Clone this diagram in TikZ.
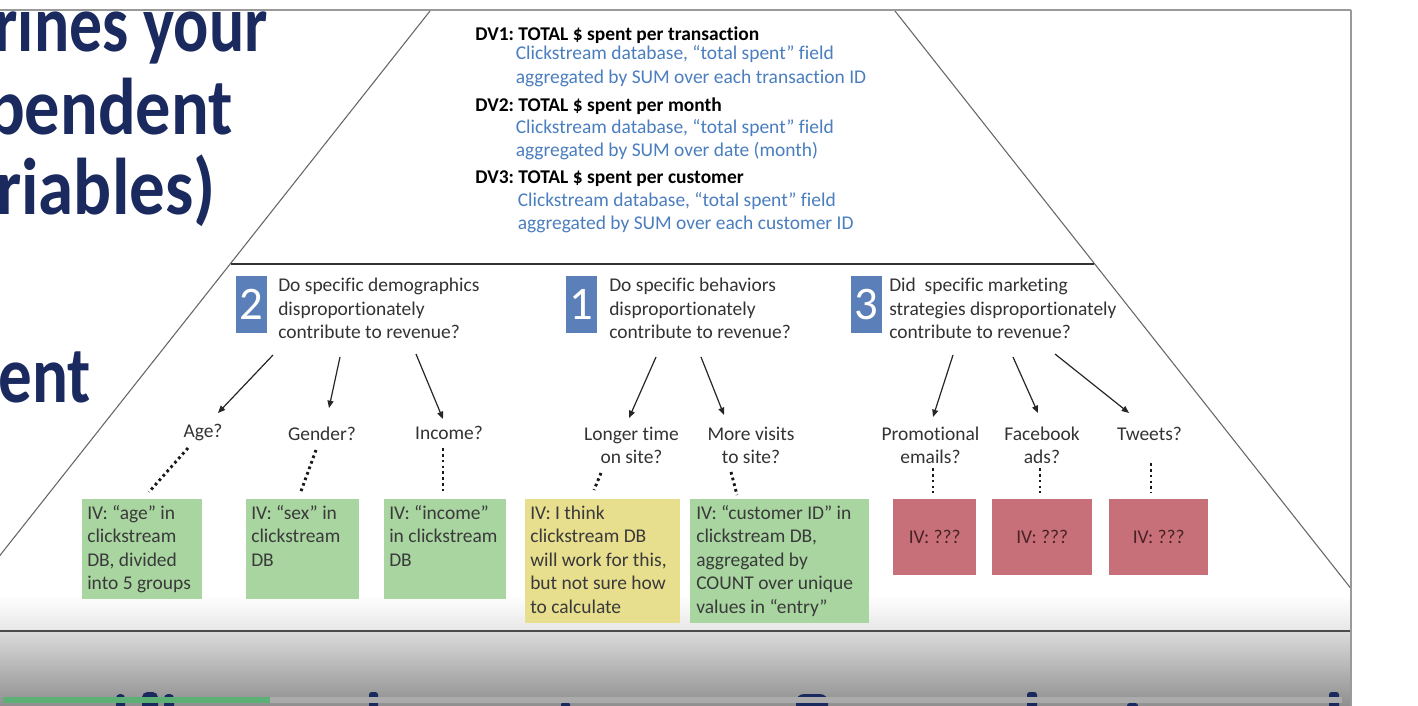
\documentclass[tikz,border=0pt]{standalone}
\usepackage{fontspec}
\setmainfont{Carlito}[Ligatures=NoCommon]
\usetikzlibrary{arrows.meta,calc}
\definecolor{navy}{HTML}{1B2A5E}
\definecolor{dvblue}{HTML}{4A7EBF}
\definecolor{numblue}{HTML}{5B80B9}
\definecolor{ivgreen}{HTML}{A8D5A0}
\definecolor{ivyellow}{HTML}{E7DE8E}
\definecolor{ivred}{HTML}{C8707A}
\definecolor{txtgray}{HTML}{333333}
\definecolor{boxtxt}{HTML}{3A3A3A}
\definecolor{redtxt}{HTML}{4A2225}
\definecolor{frame}{HTML}{9A9A9A}
\definecolor{pbgreen}{HTML}{5DB075}
\definecolor{pbgray}{HTML}{ABABAB}
\newcommand\bodyfont{\fontsize{14.6}{17.6}\selectfont}
\newcommand\headfont{\fontsize{50.25}{60}\selectfont\bfseries}
\newcommand\numfont{\fontsize{35}{40}\selectfont}
\frenchspacing
\begin{document}
\begin{tikzpicture}[x=0.75pt,y=-0.75pt,
  head/.style={font=\headfont, text=navy, inner sep=0, anchor=base east},
  qtext/.style={font=\bodyfont, text=txtgray, align=left, anchor=north west, inner sep=0},
  numbox/.style={fill=numblue, text=white, minimum width=23.25pt, minimum height=42.75pt, inner sep=0, font=\numfont, anchor=north west},
  lab/.style={font=\bodyfont, text=txtgray, align=center, inner sep=0},
  dvhead/.style={font=\bodyfont\bfseries, text=black, anchor=base west, inner sep=0},
  dvdesc/.style={font=\bodyfont, text=dvblue, anchor=base west, inner sep=0},
  ivbox/.style={draw=none, inner sep=0, anchor=north west},
  ivtext/.style={font=\bodyfont, text=boxtxt, align=left, anchor=north west, inner sep=0},
  redbox/.style={fill=ivred, inner sep=0, anchor=north west, font=\bodyfont, text=redtxt, minimum height=57pt},
  arr/.style={-{Triangle[length=5.5pt,width=4.5pt]}, line width=0.9pt, draw=black!85},
  dotline/.style={line width=2.2pt, dash pattern=on 2pt off 2.4pt, draw=black!90},
  pyr/.style={draw=black!60, line width=0.8pt}
]
\useasboundingbox (0,0) rectangle (1418,706);
\clip (0,0) rectangle (1418,706);
\fill[white] (0,0) rectangle (1418,706);

% slide bottom shading and band
\shade[top color=white, bottom color=black!9] (0,595) rectangle (1350,629);
\shade[top color=black!14, bottom color=black!44] (0,631) rectangle (1350,706);
\draw[draw=black!70, line width=1.5pt] (0,630.5) -- (1350,630.5);

% heading (clipped by the slide frame)
\begin{scope}
\clip (0,11) rectangle (1350,629);
\node[head] (h1) at (268,52) {\scalebox{0.98}[1.2]{rines your}};
\node[head] (h2) at (233,135) {\scalebox{1.05}[1.2]{pendent}};
\node[head] (h3) at (216,215) {\scalebox{1.06}[1.2]{riables)}};
\node[head] (h4) at (91,402) {\scalebox{1}[1.2]{ent}};
\end{scope}

% frame
\draw[draw=frame, line width=1.5pt] (0,10) -- (1351,10);
\draw[draw=frame, line width=1.5pt] (1351,10) -- (1351,706);

% pyramid
\begin{scope}
\clip (0,11) rectangle (1350,629);
\draw[pyr] (430,11) -- (-10,568);
\draw[pyr] (895,11) -- (1360,600);
\end{scope}
\draw[draw=black!80, line width=1.1pt] (230.6,264) -- (1094.4,264);

% DV text
\node[dvhead] (dv1) at (475,40.7) {DV1: TOTAL \$ spent per transaction};
\node[dvdesc] (dv1a) at (515.5,60) {Clickstream database, “total spent” field};
\node[dvdesc] (dv1b) at (515.5,84) {aggregated by SUM over each transaction ID};
\node[dvhead] (dv2) at (475,111.7) {DV2: TOTAL \$ spent per month};
\node[dvdesc] (dv2a) at (515.5,133.3) {Clickstream database, “total spent” field};
\node[dvdesc] (dv2b) at (515.5,156.7) {aggregated by SUM over date (month)};
\node[dvhead] (dv3) at (475,183.3) {DV3: TOTAL \$ spent per customer};
\node[dvdesc] (dv3a) at (517.5,206.7) {Clickstream database, “total spent” field};
\node[dvdesc] (dv3b) at (517.5,230) {aggregated by SUM over each customer ID};

% questions
\node[numbox] (n2) at (236,276) {2};
\node[numbox] (n1) at (566,276) {1};
\node[numbox] (n3) at (851,276) {3};
\node[qtext] (q2) at (278,275.3) {\strut Do specific demographics\\disproportionately\\contribute to revenue?};
\node[qtext] (q1) at (609,275.3) {\strut Do specific behaviors\\disproportionately\\contribute to revenue?};
\node[qtext] (q3) at (889,275.3) {\strut Did\ \ specific marketing\\strategies disproportionately\\contribute to revenue?};

% labels
\node[lab, anchor=base] (l1) at (203,437) {Age?};
\node[lab, anchor=base] (l2) at (322,440) {Gender?};
\node[lab, anchor=base] (l3) at (449,439) {Income?};
\node[lab, anchor=north] (l4) at (631.5,423.6) {\strut Longer time\\on site?};
\node[lab, anchor=north] (l5) at (751,423.6) {\strut More visits\\to site?};
\node[lab, anchor=north] (l6) at (930.5,423.6) {\strut Promotional\\emails?};
\node[lab, anchor=north] (l7) at (1042,423.6) {\strut Facebook\\ads?};
\node[lab, anchor=base] (l8) at (1149.5,440) {Tweets?};

% arrows
\coordinate (a1s) at (273,355); \coordinate (a1e) at (218,413);
\coordinate (a2s) at (340,357); \coordinate (a2e) at (329,408);
\coordinate (a3s) at (416,354); \coordinate (a3e) at (443,419);
\coordinate (a4s) at (656,357); \coordinate (a4e) at (629,418);
\coordinate (a5s) at (701,357); \coordinate (a5e) at (724,415);
\coordinate (a6s) at (953,355); \coordinate (a6e) at (933,417);
\coordinate (a7s) at (1013,357); \coordinate (a7e) at (1038,413);
\coordinate (a8s) at (1055,354); \coordinate (a8e) at (1129,413);
\foreach \i in {1,...,8} {\draw[arr] (a\i s) -- (a\i e);}

% boxes
\node[ivbox, fill=ivgreen, minimum width=90pt, minimum height=75pt] (b1) at (82,499) {};
\node[ivbox, fill=ivgreen, minimum width=84.75pt, minimum height=75pt] (b2) at (246,499) {};
\node[ivbox, fill=ivgreen, minimum width=91.5pt, minimum height=75pt] (b3) at (384,499) {};
\node[ivbox, fill=ivyellow, minimum width=116.25pt, minimum height=93pt] (b4) at (525,499) {};
\node[ivbox, fill=ivgreen, minimum width=134.25pt, minimum height=93pt] (b5) at (690,499) {};
\node[redbox, minimum width=62.25pt] (r1) at (893,499) {IV: ???};
\node[redbox, minimum width=75pt] (r2) at (992,499) {IV: ???};
\node[redbox, minimum width=74.25pt] (r3) at (1109,499) {IV: ???};

\node[ivtext] (t1) at ($(b1.north west)+(5,3.6)$) {\strut IV: “age” in\\clickstream\\DB, divided\\into 5 groups};
\node[ivtext] (t2) at ($(b2.north west)+(5,3.6)$) {\strut IV: “sex” in\\clickstream\\DB};
\node[ivtext] (t3) at ($(b3.north west)+(5,3.6)$) {\strut IV: “income”\\in clickstream\\DB};
\node[ivtext] (t4) at ($(b4.north west)+(5,3.6)$) {\strut IV: I think\\clickstream DB\\will work for this,\\but not sure how\\to calculate};
\node[ivtext] (t5) at ($(b5.north west)+(6,3.6)$) {\strut IV: “customer ID” in\\clickstream DB,\\aggregated by\\COUNT over unique\\values in “entry”};

% dotted connectors
\coordinate (d1s) at (188,448); \coordinate (d1e) at (149,492);
\coordinate (d2s) at (316,450); \coordinate (d2e) at (300,494);
\coordinate (d3s) at (443,448); \coordinate (d3e) at (443,491);
\coordinate (d4s) at (601,473); \coordinate (d4e) at (594,490);
\coordinate (d5s) at (731,472); \coordinate (d5e) at (737,495);
\coordinate (d6s) at (933,468); \coordinate (d6e) at (933,493);
\coordinate (d7s) at (1040,468); \coordinate (d7e) at (1040,493);
\coordinate (d8s) at (1151,463); \coordinate (d8e) at (1151,493);
\foreach \i in {1,...,8} {\draw[dotline] (d\i s) -- (d\i e);}

% glyph tops of the next heading line, peeking into the band
\begin{scope}
\clip (0,631) rectangle (1350,706);
\fill[navy, rounded corners=3pt] (116,694) rectangle (125,716);
\fill[navy, rounded corners=4pt] (142,692) rectangle (158,716);
\fill[navy, rounded corners=3pt] (164,694) rectangle (174,716);
\fill[navy, rounded corners=2pt] (369,692) rectangle (378,716);
\fill[navy, rounded corners=2pt] (561,702) rectangle (570,716);
\fill[navy, rounded corners=6pt] (796,694) rectangle (828,716);
\fill[navy, rounded corners=2pt] (1027,692) rectangle (1037,716);
\fill[navy, rounded corners=2pt] (1127,703) rectangle (1138,716);
\fill[navy, rounded corners=2pt] (1329,692) rectangle (1339,716);
\end{scope}

% progress bar
\fill[pbgray] (3,697) rectangle (1342,703);
\fill[pbgreen] (3,697) rectangle (270,703);
\end{tikzpicture}
\end{document}
